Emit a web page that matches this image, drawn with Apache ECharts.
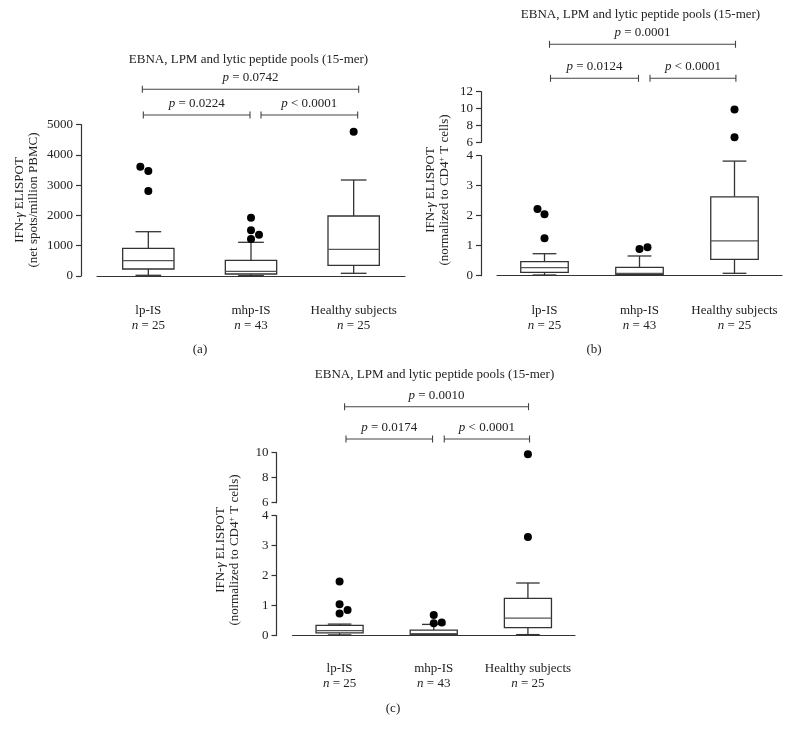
<!DOCTYPE html>
<html><head><meta charset="utf-8">
<script src="https://cdn.jsdelivr.net/npm/echarts@6/dist/echarts.min.js"></script>
<style>html,body{margin:0;padding:0;background:#fff}#c{width:790px;height:735px}</style>
</head><body><div id="c"></div>
<script>
// ---------- DATA ----------
const categories = ['lp-IS', 'mhp-IS', 'Healthy subjects'];
const groupSizes = [25, 43, 25];
const titleText = 'EBNA, LPM and lytic peptide pools (15-mer)';
const panelLetters = ['(a)', '(b)', '(c)'];

// box stats per group: [min, Q1, median, Q3, max]
const boxA = [[23, 231, 505, 914, 1462], [10, 66, 155, 518, 1112], [89, 353, 881, 1980, 3168]];
const boxB = [[0.023, 0.113, 0.267, 0.467, 0.733], [0.02, 0.047, 0.08, 0.28, 0.657], [0.08, 0.547, 1.16, 2.63, 3.82]];
const boxC = [[0.02, 0.09, 0.16, 0.34, 0.38], [0.02, 0.04, 0.06, 0.18, 0.37], [0.03, 0.26, 0.58, 1.24, 1.75]];

// outliers: [group index, value]
const outliersA = [[0, 3607], [0, 3465], [0, 2805], [1, 1924], [1, 1508], [1, 1363], [1, 1221], [2, 4762]];
const outliersB = [[0, 2.22], [0, 2.05], [0, 1.25], [1, 0.89], [1, 0.95], [2, 9.9], [2, 6.6]];
const outliersC = [[0, 1.8], [0, 1.04], [0, 0.85], [0, 0.73], [1, 0.68], [1, 0.41], [1, 0.43], [2, 3.28], [2, 9.87]];

// p-values: [long bracket (0 vs 2), short (0 vs 1), short (1 vs 2)]
const pValuesA = ['= 0.0742', '= 0.0224', '< 0.0001'];
const pValuesB = ['= 0.0001', '= 0.0124', '< 0.0001'];
const pValuesC = ['= 0.0010', '= 0.0174', '< 0.0001'];

const yTitleA = 'IFN-{i|γ} ELISPOT\n(net spots/million PBMC)';
const yTitleBC = 'IFN-{i|γ} ELISPOT\n(normalized to CD4{sup|+} T cells)';

// ---------- STYLE / LAYOUT ----------
const FONT = 'Liberation Serif';
const INK = '#333';
const jitterA = [-8, 0, 0, 0, 0, 8, 0, 0];
const jitterB = [-7, 0, 0, 0, 8, 0, 0];
const jitterC = [0, 0, 8, 0, 0, 0, 8, 0, 0];

function renderBox(params, api) {
  const ci = api.value(0);
  const pts = [1, 2, 3, 4, 5].map(i => api.coord([ci, api.value(i)]));
  const band = api.size([1, 0])[0];
  const bw = band * 0.5, cw = band * 0.25;
  const x = pts[0][0];
  const st = { stroke: INK, lineWidth: 1.3, fill: null };
  return {
    type: 'group', children: [
      { type: 'line', shape: { x1: x, y1: pts[0][1], x2: x, y2: pts[1][1] }, style: st },
      { type: 'line', shape: { x1: x, y1: pts[3][1], x2: x, y2: pts[4][1] }, style: st },
      { type: 'line', shape: { x1: x - cw / 2, y1: pts[0][1], x2: x + cw / 2, y2: pts[0][1] }, style: st },
      { type: 'line', shape: { x1: x - cw / 2, y1: pts[4][1], x2: x + cw / 2, y2: pts[4][1] }, style: st },
      { type: 'rect', shape: { x: x - bw / 2, y: pts[3][1], width: bw, height: pts[1][1] - pts[3][1] }, style: { fill: '#fff', stroke: INK, lineWidth: 1.3 } },
      { type: 'line', shape: { x1: x - bw / 2, y1: pts[2][1], x2: x + bw / 2, y2: pts[2][1] }, style: { stroke: '#555', lineWidth: 1.3 } }
    ]
  };
}

const labelRich = { i: { fontStyle: 'italic', fontFamily: FONT, fontSize: 13, color: '#222', lineHeight: 15 } };

function xAx(gi, show, offset) {
  return {
    type: 'category', gridIndex: gi, data: categories, show: show, offset: offset || 0,
    axisLine: { lineStyle: { color: INK, width: 1.2 } },
    axisTick: { alignWithLabel: true, interval: 0, length: 4, lineStyle: { color: INK, width: 1.2 } },
    axisLabel: {
      interval: 0, margin: 10, fontFamily: FONT, fontSize: 13, color: '#222', lineHeight: 15,
      formatter: (v, i) => v + '\n{i|n} = ' + groupSizes[i], rich: labelRich
    },
    splitLine: { show: false }
  };
}
function yAx(gi, min, max, interval) {
  return {
    type: 'value', gridIndex: gi, min: min, max: max, interval: interval, offset: 16,
    axisLine: { show: true, lineStyle: { color: INK, width: 1.2 } },
    axisTick: { show: true, length: 5, lineStyle: { color: INK, width: 1.2 } },
    axisLabel: { margin: 8, fontFamily: FONT, fontSize: 13, color: '#222', formatter: v => String(v) },
    splitLine: { show: false }
  };
}

const grids = [
  { left: 97, top: 124.5, width: 308, height: 151.5 },
  { left: 497, top: 155.7, width: 285, height: 120 },
  { left: 497, top: 91.7, width: 285, height: 50.6 },
  { left: 292.5, top: 515.5, width: 282.5, height: 120 },
  { left: 292.5, top: 452.7, width: 282.5, height: 50 }
];

const BREAK = 4;
function boxSeries(ax, stats) {
  return {
    type: 'custom', xAxisIndex: ax, yAxisIndex: ax, renderItem: renderBox, clip: false,
    encode: { x: 0, y: [1, 2, 3, 4, 5] },
    data: stats.map((s, i) => [i].concat(s)), z: 2
  };
}
function scatterSeries(ax, list, jitter, filt) {
  const data = [];
  list.forEach((p, k) => { if (filt(p[1])) data.push({ value: [categories[p[0]], p[1]], symbolOffset: [jitter[k], 0] }); });
  return {
    type: 'scatter', xAxisIndex: ax, yAxisIndex: ax, symbol: 'circle', symbolSize: 8,
    itemStyle: { color: '#000', opacity: 1 }, data: data, z: 3, clip: false
  };
}

const option = {
  animation: false,
  backgroundColor: '#fff',
  grid: grids,
  xAxis: [xAx(0, true, 16.7), xAx(1, true, 17), xAx(2, false), xAx(3, true, 15.5), xAx(4, false)],
  yAxis: [yAx(0, 0, 5000, 1000), yAx(1, 0, 4, 1), yAx(2, 6, 12, 2), yAx(3, 0, 4, 1), yAx(4, 6, 10, 2)],
  series: [
    boxSeries(0, boxA), scatterSeries(0, outliersA, jitterA, v => true),
    boxSeries(1, boxB), scatterSeries(1, outliersB, jitterB, v => v <= BREAK), scatterSeries(2, outliersB, jitterB, v => v > BREAK),
    boxSeries(3, boxC), scatterSeries(3, outliersC, jitterC, v => v <= BREAK), scatterSeries(4, outliersC, jitterC, v => v > BREAK)
  ]
};

const chart = echarts.init(document.getElementById('c'), null, { renderer: 'canvas' });
chart.setOption(option);

// ---------- annotations (brackets, titles) ----------
const panels = [
  { ax: 0, li: 0, p: pValuesA, titleY: 60, longY: 89.3, shortY: 115, off: [[-6, 5], [-5, -1], [10, 4]], yTitle: yTitleA, yTitleX: 27, yTitleY: 200, letter: [200, 350] },
  { ax: 1, li: 1, p: pValuesB, titleY: 15, longY: 44.3, shortY: 78.3, off: [[5, 1], [6, -1], [10.5, 1.4]], yTitle: yTitleBC, yTitleX: 438, yTitleY: 190, letter: [594, 350] },
  { ax: 3, li: 2, p: pValuesC, titleY: 375, longY: 406.7, shortY: 439, off: [[5, 0.6], [6.4, -1.2], [10.5, 1.6]], yTitle: yTitleBC, yTitleX: 228, yTitleY: 550, letter: [393, 709] }
];
const pairs = [[0, 2], [0, 1], [1, 2]];
const txtStyle = { fontFamily: FONT, fontSize: 13, fill: '#222' };
const graphics = [];
panels.forEach(pn => {
  const cx = categories.map(c => chart.convertToPixel({ xAxisIndex: pn.ax }, c));
  pairs.forEach((pr, k) => {
    const y = k === 0 ? pn.longY : pn.shortY;
    const x1 = cx[pr[0]] + pn.off[k][0], x2 = cx[pr[1]] + pn.off[k][1];
    const ls = { stroke: '#444', lineWidth: 1.1 };
    graphics.push({ type: 'line', shape: { x1: x1, y1: y, x2: x2, y2: y }, style: ls });
    graphics.push({ type: 'line', shape: { x1: x1, y1: y - 3.5, x2: x1, y2: y + 3.5 }, style: ls });
    graphics.push({ type: 'line', shape: { x1: x2, y1: y - 3.5, x2: x2, y2: y + 3.5 }, style: ls });
    graphics.push({
      type: 'text', x: (x1 + x2) / 2, y: y - 11.5,
      style: Object.assign({ text: '{i|p} ' + pn.p[k], align: 'center', verticalAlign: 'middle', rich: { i: { fontStyle: 'italic', fontFamily: FONT, fontSize: 13, fill: '#222' } } }, txtStyle)
    });
    if (k === 0) {
      graphics.push({ type: 'text', x: (x1 + x2) / 2 - 2, y: pn.titleY, style: Object.assign({ text: titleText, align: 'center', verticalAlign: 'middle' }, txtStyle) });
    }
  });
  graphics.push({
    type: 'text', x: pn.yTitleX, y: pn.yTitleY, rotation: Math.PI / 2,
    style: Object.assign({
      text: pn.yTitle, align: 'center', verticalAlign: 'middle', lineHeight: 14,
      rich: {
        i: { fontStyle: 'italic', fontFamily: FONT, fontSize: 13, fill: '#222', lineHeight: 14 },
        sup: { fontFamily: FONT, fontSize: 8, fill: '#222', verticalAlign: 'top', lineHeight: 14, padding: [0, 0, 6, 0] }
      }
    }, txtStyle)
  });
  graphics.push({ type: 'text', x: pn.letter[0], y: pn.letter[1], style: Object.assign({ text: panelLetters[pn.li], align: 'center', verticalAlign: 'middle' }, txtStyle) });
});
chart.setOption({ graphic: graphics });
</script>
</body></html>
